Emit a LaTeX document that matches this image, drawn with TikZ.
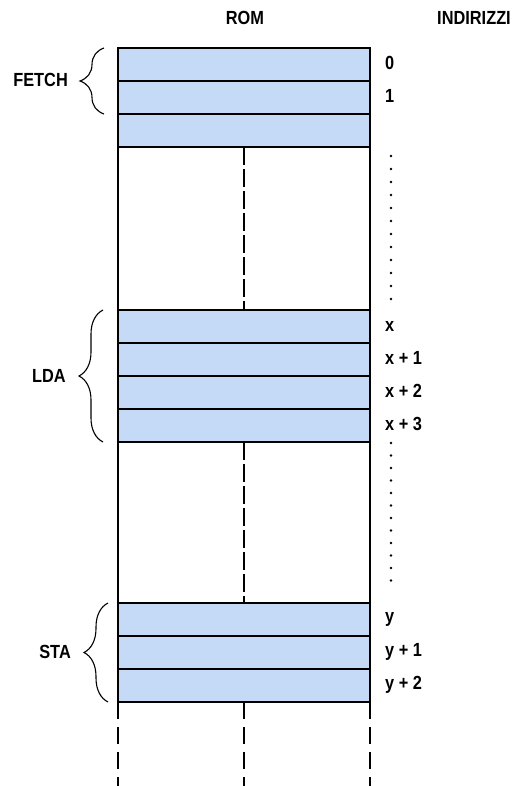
\documentclass[tikz,border=0pt]{standalone}
\usepackage{fontspec}
\setmainfont{Liberation Sans}[FakeStretch=0.86]
\usetikzlibrary{decorations.pathreplacing,positioning}
\definecolor{romblue}{RGB}{196,218,246}

\begin{document}
\begin{tikzpicture}[x=1pt,y=-1pt,
  cell/.style={draw,fill=romblue,line width=1.3pt,minimum width=252pt,minimum height=33pt,inner sep=0pt,outer sep=0pt,anchor=north west},
  lbl/.style={font=\bfseries\fontsize{19}{21}\selectfont,inner sep=0pt},
  addr/.style={lbl,anchor=west},
  grp/.style={decorate,decoration={brace,amplitude=24pt},line width=1.1pt},
  wall/.style={line width=1.3pt},
  split/.style={line width=1.3pt,dash pattern=on 18pt off 4pt},
  tail/.style={line width=1.1pt,dash pattern=on 17pt off 8pt}]
\useasboundingbox (0,0) rectangle (523,786);

% headings
\node[lbl] (rom) at (245,18) {ROM};
\node[lbl] (ind) at (474,18) {INDIRIZZI};

% ROM cells
\foreach \i/\t in {0/48,1/81,2/114} \node[cell] (f\i) at (118,\t) {};
\foreach \i/\t in {0/310,1/343,2/376,3/409} \node[cell] (l\i) at (118,\t) {};
\foreach \i/\t in {0/603,1/636,2/669} \node[cell] (s\i) at (118,\t) {};

% empty parts of the memory
\draw[wall] (f2.south west) -- (l0.north west) (f2.south east) -- (l0.north east);
\draw[split] (f2.south) -- (l0.north);
\draw[wall] (l3.south west) -- (s0.north west) (l3.south east) -- (s0.north east);
\draw[split] (l3.south) -- (s0.north);
\draw[tail] (s2.south west) -- ++(0,84) (s2.south) -- ++(0,84) (s2.south east) -- ++(0,84);

% addresses
\node[addr] (a0) at (385,63) {0};
\node[addr] (a1) at (385,96) {1};
\node[addr] (ax0) at (385,326) {x};
\node[addr] (ax1) at (385,358) {x + 1};
\node[addr] (ax2) at (385,391) {x + 2};
\node[addr] (ax3) at (385,424) {x + 3};
\node[addr] (ay0) at (385,619) {y};
\node[addr] (ay1) at (385,652) {y + 1};
\node[addr] (ay2) at (385,685) {y + 2};
\foreach \k in {0,...,11} {
  \fill (391,156+13*\k) circle (1.3pt);
  \fill (391,443+12.5*\k) circle (1.3pt);
}

% instruction groups
\draw[grp] ([xshift=-14pt]f1.south west) -- ([xshift=-14pt]f0.north west);
\draw[grp] ([xshift=-15pt]l3.south west) -- ([xshift=-15pt]l0.north west);
\draw[grp] ([xshift=-10pt]s2.south west) -- ([xshift=-10pt]s0.north west);
\node[lbl,anchor=east] (fetch) at (68,80) {FETCH};
\node[lbl,anchor=east] (lda) at (66,376) {LDA};
\node[lbl,anchor=east] (sta) at (71,652) {STA};
\end{tikzpicture}
\end{document}
